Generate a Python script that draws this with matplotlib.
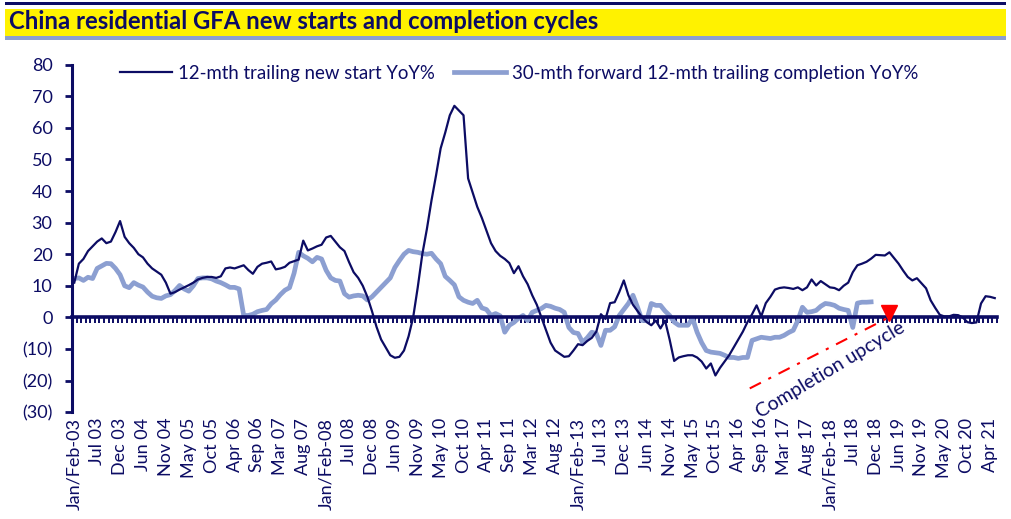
import matplotlib

matplotlib.use("Agg")

import matplotlib.pyplot as plt
import numpy as np
from matplotlib.patches import Rectangle
from matplotlib.ticker import FuncFormatter

# monthly categories (Jan/Feb combined), Jan/Feb-03 .. May 21
tick_labels = [
    "Jan/Feb-03", "Jul 03", "Dec 03", "Jun 04", "Nov 04", "May 05", "Oct 05",
    "Apr 06", "Sep 06", "Mar 07", "Aug 07", "Jan/Feb-08", "Jul 08", "Dec 08",
    "Jun 09", "Nov 09", "May 10", "Oct 10", "Apr 11", "Sep 11", "Mar 12",
    "Aug 12", "Jan/Feb-13", "Jul 13", "Dec 13", "Jun 14", "Nov 14", "May 15",
    "Oct 15", "Apr 16", "Sep 16", "Mar 17", "Aug 17", "Jan/Feb-18", "Jul 18",
    "Dec 18", "Jun 19", "Nov 19", "May 20", "Oct 20", "Apr 21",
]

new_start_yoy = [
    11, 17, 18.5, 21, 22.5, 24, 25, 23.5, 24, 27,
    30.5, 25.5, 23.5, 22, 20, 19, 17, 15.5, 14.5, 13.5,
    11, 7.5, 8, 8.8, 9.5, 10.2, 11, 12, 12.5, 12.8,
    12.8, 12.5, 13, 15.5, 15.8, 15.5, 16, 16.5, 15, 13.8,
    16, 17, 17.3, 17.7, 15.2, 15.5, 16, 17.3, 17.8, 18.3,
    24.3, 21.2, 21.8, 22.5, 23, 25.3, 25.8, 24, 22.2, 21,
    17.5, 14.3, 12.5, 10, 6.5, 2, -3, -7, -9.5, -12,
    -12.8, -12.5, -10.5, -6, 0, 9.5, 20, 28, 37, 45,
    53.5, 58.5, 64, 67, 65.5, 64, 44, 39.5, 35, 31.5,
    27.5, 23.5, 21, 19.5, 18.5, 17.2, 14, 16.2, 13, 10.5,
    7, 4, 0, -4, -8, -10.5, -11.5, -12.5, -12.3, -10.5,
    -8.5, -8.8, -7.5, -6.5, -4.5, 1, -0.5, 4.5, 4.8, 8,
    11.7, 7, 4, 2, 0, -1.5, -2.5, -1, -3.5, -1,
    -7, -13.8, -12.7, -12.3, -12, -12, -12.7, -14, -16.2, -14.6,
    -18.4, -16, -14, -12, -9.5, -7, -4.5, -1.5, 1, 3.8,
    0.3, 4.5, 6.5, 8.8, 9.3, 9.5, 9.3, 9, 9.5, 8.6,
    9.5, 12, 10.1, 11.5, 10.5, 9.5, 9.3, 8.6, 10, 11,
    14.3, 16.5, 17, 17.6, 18.6, 19.8, 19.7, 19.6, 20.6, 18.8,
    17, 14.8, 12.8, 11.7, 12.4, 10.8, 9.2, 5.4, 3, 0.8,
    0.3, 0.3, 0.8, 0.7, 0, -1.5, -1.8, -1.6, 4.4, 6.7,
    6.5, 6.1,
]

completion_fwd_yoy = [
    12.3, 12.5, 11.7, 12.7, 12.3, 15.5, 16.3, 17.1, 17, 15.5,
    13.5, 10, 9.4, 11, 10.2, 9.6, 8, 6.7, 6.2, 6,
    6.8, 7.2, 8.5, 10.1, 9, 8.3, 10, 12.3, 12.5, 12.5,
    12.2, 11.5, 11, 10.3, 9.5, 9.5, 9, 0.6, 0.6, 1,
    1.8, 2.2, 2.5, 4.3, 5.5, 7.2, 8.6, 9.4, 14, 20.6,
    19.5, 18.7, 17.6, 19, 18.5, 14.9, 12.5, 11.7, 11.5, 7.5,
    6.4, 6.8, 7, 6.8, 5.5, 6.5, 8, 9.5, 11, 12.5,
    15.8, 18, 20, 21.2, 20.8, 20.6, 20.2, 20, 20.3, 18.5,
    17, 13, 11.7, 10.3, 6.5, 5.4, 4.8, 4.4, 5.4, 3,
    2.5, 0.6, 1.2, 0.5, -4.7, -2.5, -1.6, -0.3, 0.6, -1,
    1.6, 2.2, 2.8, 3.8, 3.5, 2.9, 2.5, 1.6, -3.2, -4.8,
    -5.1, -7.9, -6.5, -4.7, -5.1, -8.9, -4.1, -4.1, -3, 0.6,
    2.5, 4.4, 7, 3.2, -1, -1, 4.4, 3.8, 3.8, 2,
    0.6, -1.5, -2.5, -2.5, -2.5, -0.3, -4.7, -8, -10.5, -11,
    -11.2, -11.4, -12, -12.7, -12.7, -13, -12.7, -12.7, -7.3, -6.8,
    -6.3, -6.5, -6.7, -6.3, -6.3, -5.7, -4.8, -4.1, -1, 3.2,
    1.6, 1.8, 2.2, 3.5, 4.4, 4.2, 3.8, 2.9, 2.5, 2.2,
    -3.2, 4.5, 4.8, 4.8, 4.9,
]

# annotation arrow (category index, value)
arrow_start = (147.5, -22.5)
arrow_end = (177.5, -0.3)

NAVY = "#0c0c64"
LIGHT = "#8c9fd1"
YELLOW = "#fff200"

plt.rcParams["font.family"] = ["Lato", "DejaVu Sans"]

fig = plt.figure(figsize=(10.11, 5.19), dpi=100)
ax = fig.add_axes([0.0712, 0.206, 0.9150, 0.6692])

x_new = np.arange(len(new_start_yoy))
x_comp = np.arange(len(completion_fwd_yoy))
ax.plot(x_new, new_start_yoy, color=NAVY, lw=1.6, label="12-mth trailing new start YoY%", zorder=3)
ax.plot(x_comp, completion_fwd_yoy, color=LIGHT, lw=3.4, label="30-mth forward 12-mth trailing completion YoY%",
        zorder=2, solid_joinstyle="round")

n = len(new_start_yoy)
ax.set_xlim(-0.5, n - 0.5)
ax.set_ylim(-30, 80)
ax.set_yticks(np.arange(-30, 81, 10))
ax.yaxis.set_major_formatter(FuncFormatter(lambda v, _: f"({abs(v):.0f})" if v < 0 else f"{v:.0f}"))

for side in ("top", "right"):
    ax.spines[side].set_visible(False)
ax.spines["left"].set_color(NAVY)
ax.spines["left"].set_linewidth(2.2)
ax.spines["bottom"].set_position(("data", 0))
ax.spines["bottom"].set_color(NAVY)
ax.spines["bottom"].set_linewidth(2.6)
ax.spines["bottom"].set_zorder(4)

ax.set_xticks(np.arange(-0.5, n, 1))
ax.tick_params(axis="x", direction="out", length=4, width=1.4, color=NAVY, labelbottom=False)
ax.tick_params(axis="y", direction="out", length=5, width=2, color=NAVY, labelcolor=NAVY, labelsize=13, pad=9)

# category labels at the bottom of the plot area
sec = ax.secondary_xaxis("bottom")
sec.set_xticks(np.arange(0, n, 5))
sec.set_xticklabels(tick_labels, rotation=90)
sec.tick_params(axis="x", length=0, labelcolor=NAVY, labelsize=13, pad=4)
sec.spines["bottom"].set_visible(False)

ax.legend(loc="upper left", bbox_to_anchor=(0.052, 1.0), ncol=2, frameon=False, fontsize=13.4,
          labelcolor=NAVY, handlelength=2.8, handletextpad=0.32, columnspacing=1.0,
          borderpad=0, borderaxespad=0)

# completion upcycle arrow
ax.plot([arrow_start[0], arrow_end[0]], [arrow_start[1], arrow_end[1]], color="red", lw=1.5,
        linestyle=(0, (6, 4, 1.5, 4)), zorder=5)
ax.plot([arrow_end[0] + 0.5], [arrow_end[1] + 1.8], marker="v", color="red", markersize=11, zorder=6)
ax.text(165.2, -16.8, "Completion upcycle", rotation=31, rotation_mode="anchor", ha="center", va="center",
        color=NAVY, fontsize=14)

# title banner
fig.add_artist(Rectangle((5 / 1011, 1 - 5 / 519), 1001 / 1011, 3 / 519, transform=fig.transFigure,
                         color=NAVY, lw=0))
fig.add_artist(Rectangle((5 / 1011, 1 - 36 / 519), 1001 / 1011, 27 / 519, transform=fig.transFigure,
                         color=YELLOW, lw=0))
fig.add_artist(Rectangle((5 / 1011, 1 - 39.5 / 519), 1001 / 1011, 3.5 / 519, transform=fig.transFigure,
                         color=LIGHT, lw=0))
fig.text(9 / 1011, 1 - 22 / 519, "China residential GFA new starts and completion cycles", color=NAVY,
         fontsize=17.2, fontweight="bold", ha="left", va="center")

fig.savefig("out.png", dpi=100)
plt.close(fig)
